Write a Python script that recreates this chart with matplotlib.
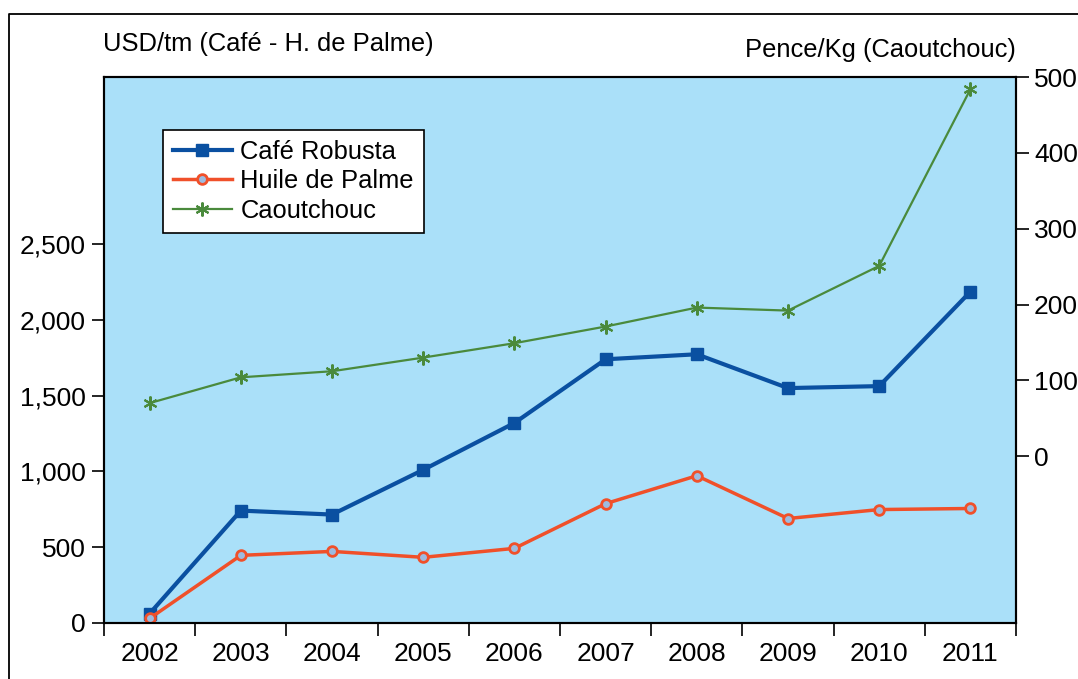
import matplotlib
matplotlib.use("Agg")
import matplotlib.pyplot as plt
from matplotlib.lines import Line2D
import numpy as np

plt.rcParams['font.family'] = ['Liberation Sans', 'DejaVu Sans']

# data
years = ['2002', '2003', '2004', '2005', '2006', '2007', '2008', '2009', '2010', '2011']
cafe = [62, 741, 715, 1010, 1319, 1739, 1772, 1549, 1562, 2185]
huile = [30, 446, 472, 433, 492, 787, 971, 689, 748, 755]
caoutchouc = [70, 104, 112, 130, 149, 171, 196, 192, 251, 484]
left_ticks = [0, 500, 1000, 1500, 2000, 2500]
right_ticks = [0, 100, 200, 300, 400, 500]

bg = '#aae0f9'
fs = 19
fs_txt = 18.4

fig = plt.figure(figsize=(10.78, 6.79), dpi=100)
ax = fig.add_axes([0.0965, 0.0825, 0.846, 0.804])
ax.set_facecolor(bg)
ax2 = ax.twinx()

x = np.arange(len(years))

l1, = ax.plot(x, cafe, color='#0a50a1', lw=3, marker='s', ms=8, zorder=3)
l2, = ax.plot(x, huile, color='#f0502a', lw=2.5, marker='o', ms=7,
              mfc='#9dbbe0', mec='#f0502a', mew=2, zorder=3)
l3, = ax2.plot(x, caoutchouc, color='#4a8a3c', lw=1.6, marker=(6, 2, 0), ms=10,
               mew=1.5, zorder=3)

ax.set_xlim(-0.5, len(years) - 0.5)
ax.set_ylim(0, 3600)
ax2.set_ylim(-220, 500)

ax.set_yticks(left_ticks)
ax.set_yticklabels([f'{v:,}' for v in left_ticks])
ax2.set_yticks(right_ticks)

ax.set_xticks(x)
ax.set_xticklabels(years)
ax.set_xticks(np.arange(-0.5, len(years), 1), minor=True)
ax.tick_params(axis='x', which='major', length=0, labelsize=fs, pad=14)
ax.tick_params(axis='x', which='minor', length=9, width=1.2, direction='out')
ax.tick_params(axis='y', length=9, width=1.2, labelsize=fs, pad=4)
ax2.tick_params(axis='y', length=9, width=1.2, labelsize=fs, pad=4)

for a in (ax, ax2):
    for s in a.spines.values():
        s.set_linewidth(1.5)

fig.text(0.0955, 0.935, 'USD/tm (Café - H. de Palme)', fontsize=fs_txt,
         ha='left', va='center')
fig.text(0.9425, 0.927, 'Pence/Kg (Caoutchouc)', fontsize=fs_txt,
         ha='right', va='center')

leg = ax2.legend([l1, l2, l3], ['Café Robusta', 'Huile de Palme', 'Caoutchouc'],
                 loc='upper left', bbox_to_anchor=(0.0647, 0.903),
                 borderaxespad=0, fontsize=fs_txt, fancybox=False,
                 framealpha=1, edgecolor='black', handlelength=2.3,
                 labelspacing=0.22, borderpad=0.38, handletextpad=0.35)
leg.get_frame().set_linewidth(1.2)

# outer frame of the figure
fig.add_artist(Line2D([9 / 1078, 9 / 1078, 1], [0, 1 - 14 / 679, 1 - 14 / 679],
                      transform=fig.transFigure, color='black', lw=1.3))

fig.savefig('out.png', dpi=100)
